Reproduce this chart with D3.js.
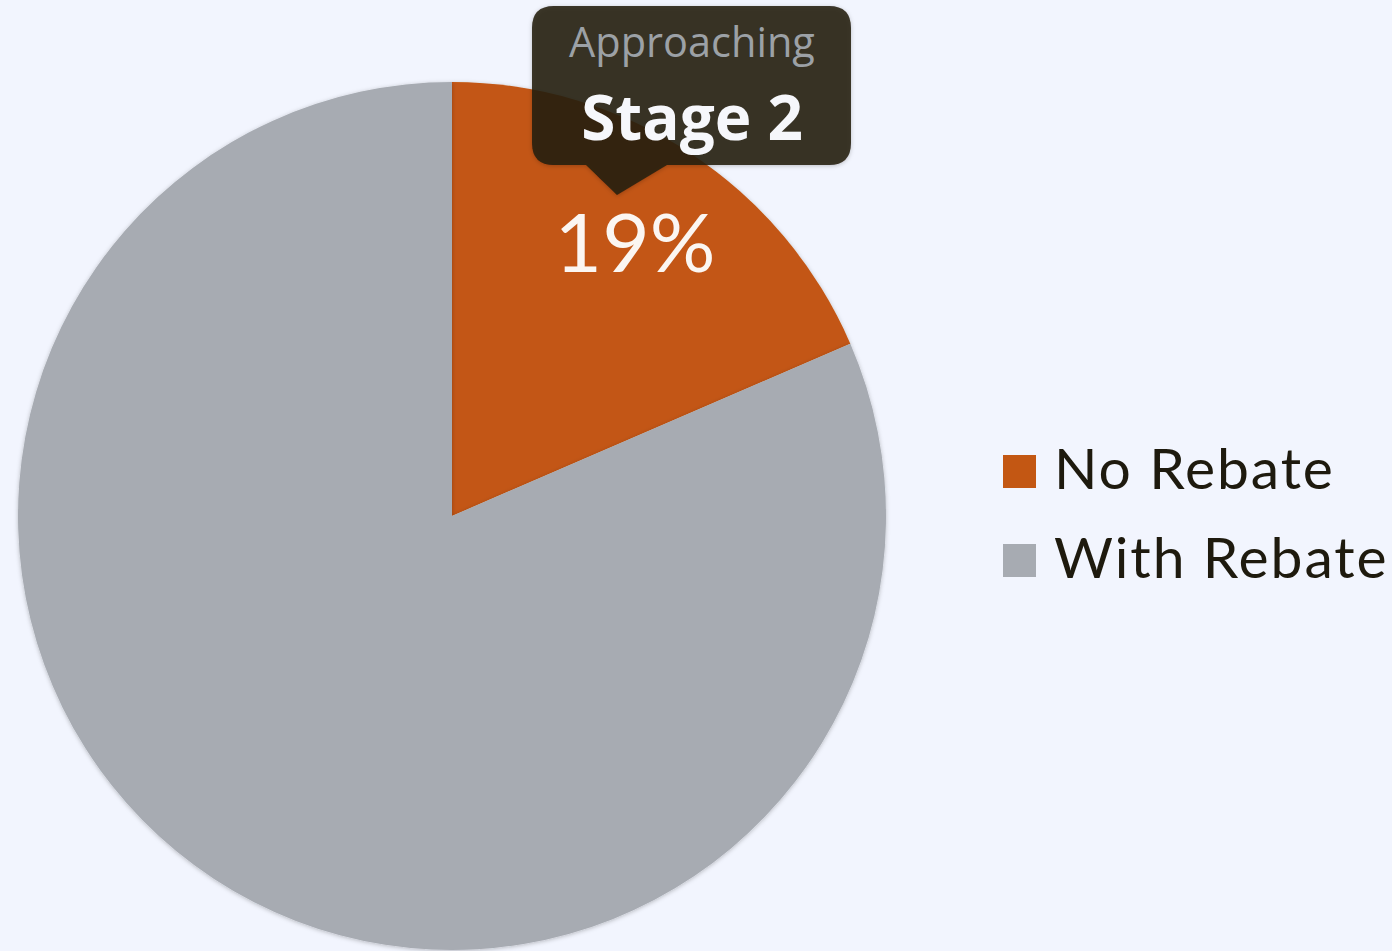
<!DOCTYPE html>
<html>
<head>
<meta charset="utf-8">
<script src="https://cdn.jsdelivr.net/npm/d3@7"></script>
<style>
  html, body { margin: 0; padding: 0; background: #f2f5fe; }
  svg { display: block; }
</style>
</head>
<body>
<script>
(function() {

    // chart values
    var categories = ["No Rebate", "With Rebate"];
    var values = [18.5, 81.5];
    var sliceLabels = ["19%", ""];
    var calloutTitle = "Approaching";
    var calloutStage = "Stage 2";

    var width = 1392,
        height = 951,
        cx = 452,
        cy = 516,
        radius = 434;

    var color = d3.scaleOrdinal()
        .domain(categories)
        .range(["#c35713", "#a7abb2"]);

    var svg = d3.select("body")
        .append("svg")
        .attr("width", width)
        .attr("height", height);

    var defs = svg.append("defs");
    var shadow = defs.append("filter")
        .attr("id", "shadow")
        .attr("x", "-20%").attr("y", "-20%")
        .attr("width", "140%").attr("height", "140%");
    shadow.append("feDropShadow")
        .attr("dx", 0).attr("dy", 1)
        .attr("stdDeviation", 2)
        .attr("flood-color", "#000")
        .attr("flood-opacity", 0.25);

    var pie = d3.pie()
        .sort(null)
        .value(function(d) { return d; });

    var arc = d3.arc()
        .innerRadius(0)
        .outerRadius(radius);

    var g = svg.append("g")
        .attr("transform", "translate(" + cx + "," + cy + ")");

    var arcs = pie(values);

    g.selectAll("path")
        .data(arcs)
        .enter()
        .append("path")
        .attr("d", arc)
        .attr("fill", function(d, i) { return color(categories[i]); })
        .attr("filter", "url(#shadow)");

    // percentage label inside the small slice
    g.selectAll("text.pct")
        .data(arcs)
        .enter()
        .append("text")
        .attr("class", "pct")
        .attr("x", 635 - cx)
        .attr("y", 272 - cy)
        .attr("text-anchor", "middle")
        .attr("font-family", "Lato, 'Open Sans', sans-serif")
        .attr("font-size", 82)
        .attr("fill", "#fbf6f2")
        .text(function(d, i) { return sliceLabels[i]; });

    // legend
    var legend = svg.append("g")
        .attr("transform", "translate(1003,455)");

    var item = legend.selectAll("g")
        .data(categories)
        .enter()
        .append("g")
        .attr("transform", function(d, i) { return "translate(0," + (i * 89) + ")"; });

    item.append("rect")
        .attr("width", 33)
        .attr("height", 33)
        .attr("fill", function(d) { return color(d); });

    item.append("text")
        .attr("x", 51)
        .attr("y", 34)
        .attr("font-family", "Lato, 'Open Sans', sans-serif")
        .attr("font-size", 57)
        .attr("letter-spacing", 1.9)
        .attr("fill", "#1e1a0e")
        .text(function(d) { return d; });

    // callout box
    var box = svg.append("g").attr("filter", "url(#shadow)");
    box.append("path")
        .attr("d", "M554,6 H829 Q851,6 851,28 V143 Q851,165 829,165 H667 L617,195 L586,165 H554 Q532,165 532,143 V28 Q532,6 554,6 Z")
        .attr("fill", "#231c0c")
        .attr("fill-opacity", 0.88);

    svg.append("text")
        .attr("x", 692)
        .attr("y", 57)
        .attr("text-anchor", "middle")
        .attr("font-family", "'Open Sans', 'Noto Sans', sans-serif")
        .attr("font-size", 41.5)
        .attr("fill", "#9ca1a6")
        .text(calloutTitle);

    svg.append("text")
        .attr("x", 692)
        .attr("y", 140)
        .attr("text-anchor", "middle")
        .attr("font-family", "'Open Sans', 'Noto Sans', sans-serif")
        .attr("font-weight", "bold")
        .attr("font-size", 62)
        .attr("fill", "#f6f7fb")
        .text(calloutStage);

})();
</script>
</body>
</html>
